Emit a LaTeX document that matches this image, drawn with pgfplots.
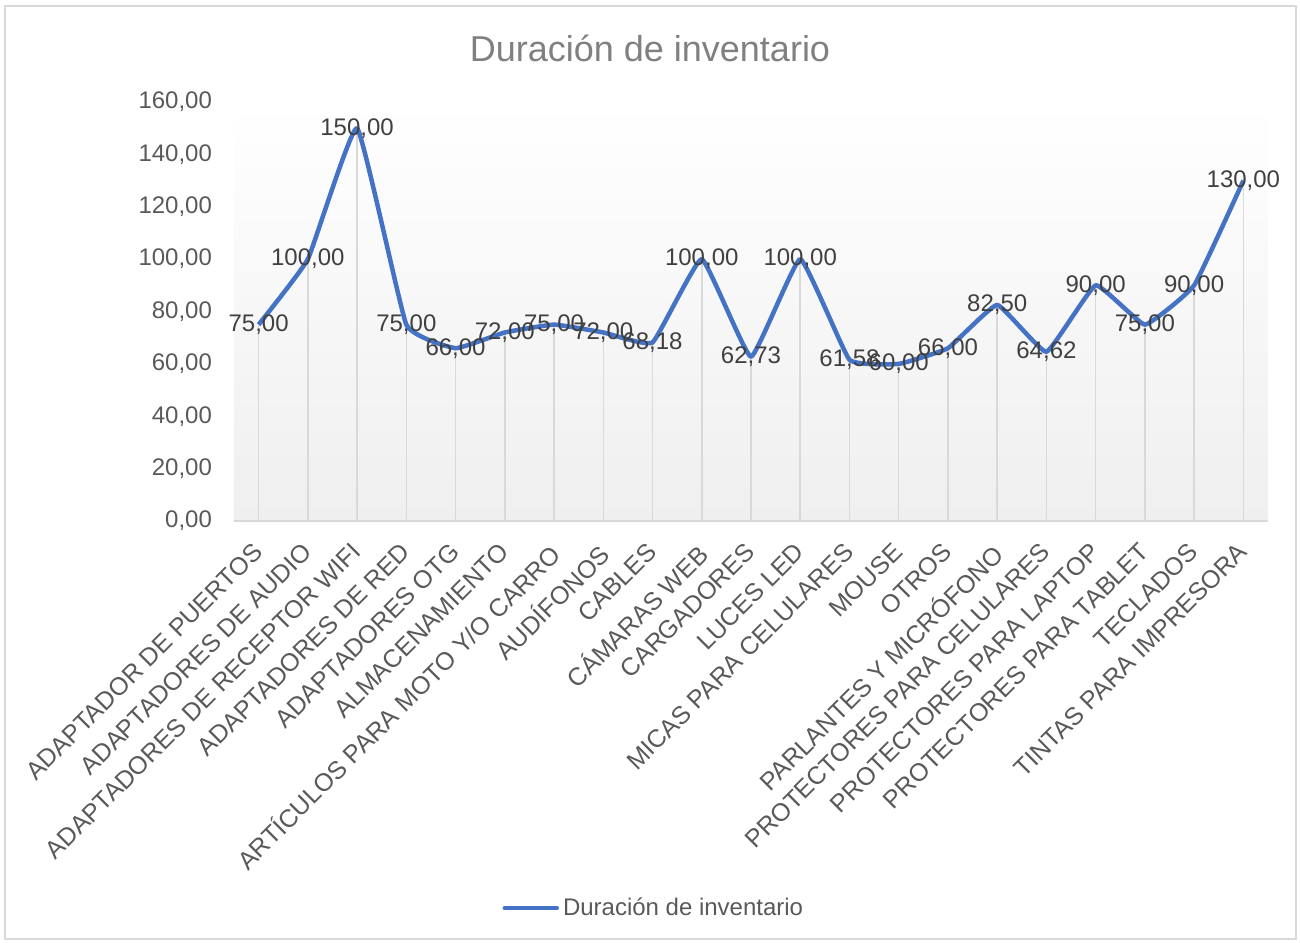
\documentclass[border=0pt]{standalone}
\usepackage{fontspec}
\setmainfont{Liberation Sans}
\usepackage{pgfplots}
\pgfplotsset{compat=1.18}
\definecolor{lineblue}{HTML}{4472C4}
\definecolor{dropgray}{HTML}{D9D9D9}
\definecolor{ticktext}{HTML}{595959}
\definecolor{labeltext}{HTML}{404040}
\definecolor{titletext}{HTML}{808080}
\definecolor{framegray}{HTML}{D9D9D9}
\definecolor{bgbottom}{HTML}{EFEFEF}

\pgfplotstableread{
x y
0 75
1 100
2 150
3 75
4 66
5 72
6 75
7 72
8 68.18
9 100
10 62.73
11 100
12 61.58
13 60
14 66
15 82.5
16 64.62
17 90
18 75
19 90
20 130
}\datatable

\begin{document}
\begin{tikzpicture}
\begin{axis}[
  scale only axis, width=517pt, height=209.5pt,
  at={(0pt,0pt)}, anchor=south west,
  xmin=-0.5, xmax=20.5, ymin=0, ymax=160,
  axis line style={draw=none},
  major tick length=0pt,
  tick style={draw=none},
  axis background/.style={shade, top color=white, bottom color=bgbottom},
  xtick={0,...,20},
  xticklabels={ADAPTADOR DE PUERTOS,ADAPTADORES DE AUDIO,ADAPTADORES DE RECEPTOR WIFI,ADAPTADORES DE RED,ADAPTADORES OTG,ALMACENAMIENTO,ARTÍCULOS PARA MOTO Y/O CARRO,AUDÍFONOS,CABLES,CÁMARAS WEB,CARGADORES,LUCES LED,MICAS PARA CELULARES,MOUSE,OTROS,PARLANTES Y MICRÓFONO,PROTECTORES PARA CELULARES,PROTECTORES PARA LAPTOP,PROTECTORES PARA TABLET,TECLADOS,TINTAS PARA IMPRESORA},
  xticklabel style={xshift=-3.5pt, yshift=-8.5pt, rotate=45, anchor=north east, inner sep=1pt, font=\fontsize{12.5}{14}\selectfont, text=ticktext},
  ytick={0,20,...,160},
  yticklabel style={xshift=-7.5pt, font=\fontsize{12}{14}\selectfont, text=ticktext},
  /pgf/number format/fixed,
  /pgf/number format/fixed zerofill,
  /pgf/number format/precision=2,
  /pgf/number format/use comma,
  /pgf/number format/assume math mode=true,
  legend style={draw=none, fill=none, at={(0.407,-0.924)}, anchor=center, font=\fontsize{12}{14}\selectfont, text=ticktext},
  legend image code/.code={\draw[lineblue, line width=2.25pt, line cap=round] (0pt,0pt) -- (26pt,0pt);},
]
\addplot[ycomb, draw=dropgray, line width=0.75pt, mark=none, forget plot] table[x=x,y=y] {\datatable};
\addplot[lineblue, line width=2.25pt, smooth, tension=0.2, mark=none, line join=round,
  nodes near coords, point meta=y,
  every node near coord/.append style={anchor=center, font=\fontsize{12}{14}\selectfont, text=labeltext}]
  table[x=x,y=y] {\datatable};
\addlegendentry{Duración de inventario}
\draw[dropgray, line width=1pt] (rel axis cs:0,0) -- (rel axis cs:1,0);
\end{axis}
\node[font=\fontsize{18}{22}\selectfont, text=titletext] at (208pt,236.5pt) {Duración de inventario};
\draw[framegray, line width=1pt] (-114.5pt,-209pt) rectangle (531pt,257.5pt);
\pgfresetboundingbox
\path (-117pt,-210.5pt) rectangle (533pt,260.5pt);
\end{tikzpicture}
\end{document}
